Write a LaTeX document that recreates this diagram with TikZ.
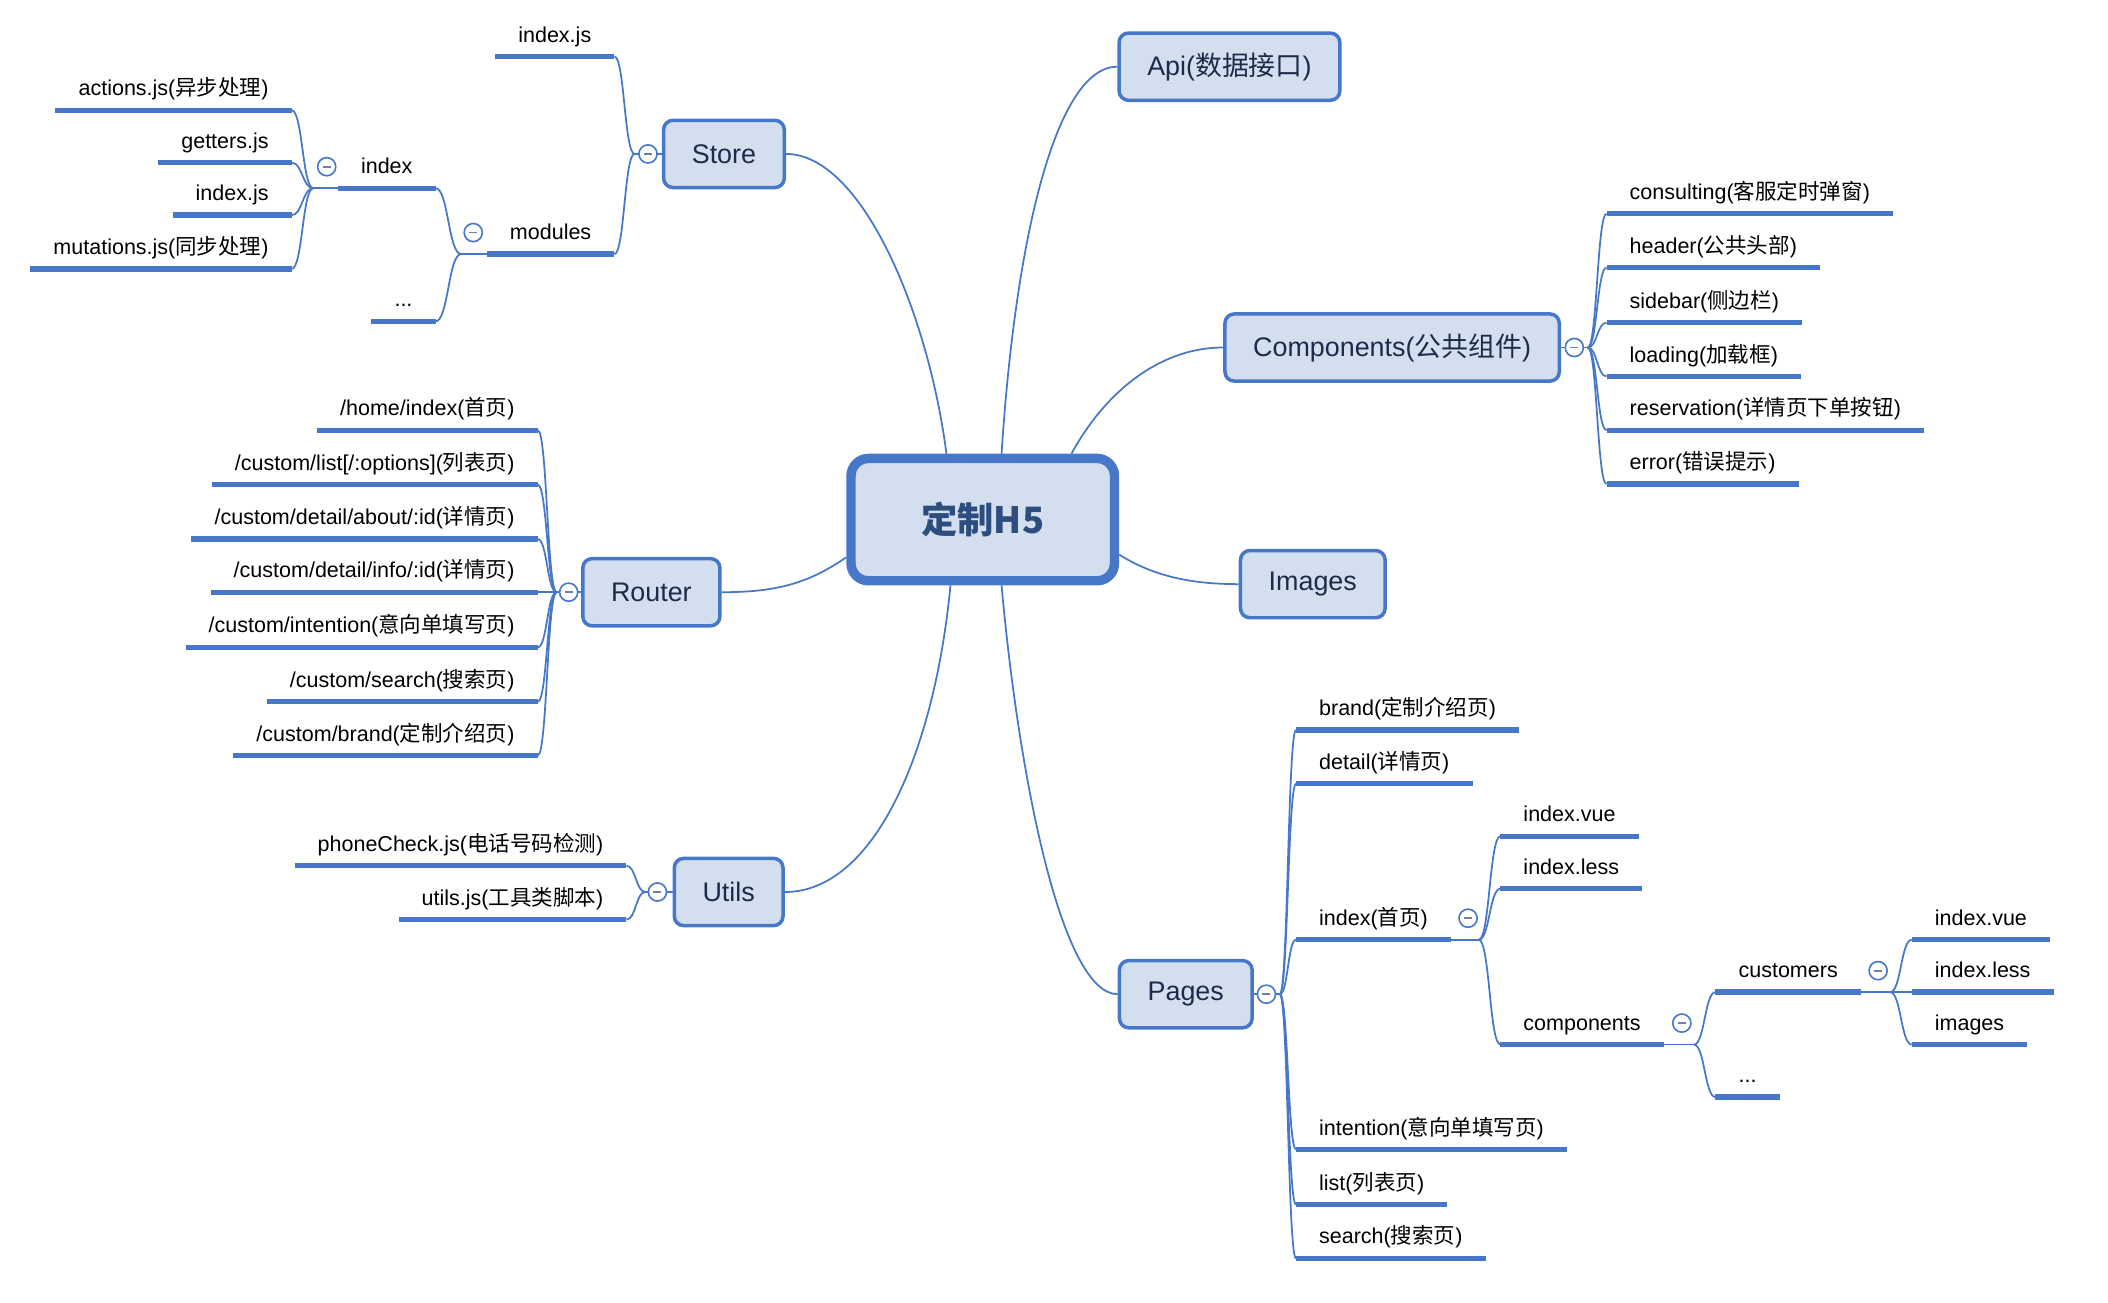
\documentclass[tikz,border=0pt]{standalone}
\usepackage{fontspec}
\setmainfont{Liberation Sans}
\newfontfamily\zhfont{Noto Sans CJK SC}
\newcommand{\zh}[1]{{\zhfont #1}}
\usetikzlibrary{calc}
\definecolor{mapblue}{HTML}{4677C8}
\definecolor{mapfill}{HTML}{D3DEEE}
\definecolor{hubtext}{HTML}{2D4D7F}
\definecolor{boxtext}{HTML}{1C2B47}
\definecolor{foldmark}{HTML}{6F7FAE}
\tikzset{
  hub/.style={draw=mapblue, fill=mapfill, line width=7pt, rounded corners=13pt,
    minimum width=196pt, minimum height=91pt, text=hubtext,
    font=\zhfont\bfseries\fontsize{27}{31}\selectfont},
  topic/.style={draw=mapblue, fill=mapfill, line width=2.6pt, rounded corners=7pt,
    inner xsep=21pt, minimum height=50pt, text=boxtext,
    font=\fontsize{20}{24}\selectfont},
  uline/.style={draw=mapblue, line width=4pt},
  leaf/.style={inner xsep=17pt, inner ysep=7.5pt, text height=12pt, text depth=3pt,
    font=\fontsize{16}{19}\selectfont,
    append after command={(\tikzlastnode.south west) edge[uline] (\tikzlastnode.south east)}},
  leafl/.style={leaf, anchor=south east},
  leafr/.style={leaf, anchor=south west},
  conn/.style={draw=mapblue, line width=1.3pt},
  fold/.style={circle, draw=mapblue, fill=white, line width=1.2pt, minimum size=13.5pt,
    inner sep=0pt, path picture={\draw[foldmark, line width=1.3pt]
      ([xshift=-3pt]path picture bounding box.center) -- ([xshift=3pt]path picture bounding box.center);}},
  branch/.style={to path={let \p1=(\tikztostart), \p2=(\tikztotarget) in
    .. controls ({(\x1+\x2)/2},\y1) and ({(\x1+\x2)/2},\y2) .. (\tikztotarget)}}
}
\begin{document}
\begin{tikzpicture}[x=1pt,y=-1pt]
\useasboundingbox (0,0) rectangle (1568,968.5);

% center and main topics
\node[hub] (hub) at (731,386.5) {定制H5};
\node[topic] (api) at (914.5,49.6) {Api(\zh{数据接口})};
\node[topic] (store) at (538.5,114.5) {Store};
\node[topic] (comp) at (1035.5,258.5) {Components(\zh{公共组件})};
\node[topic] (img) at (976.5,434.5) {Images};
\node[topic] (router) at (484.5,440.5) {Router};
\node[topic] (utils) at (542,663.5) {Utils};
\node[topic] (pages) at (882,739.5) {Pages};

\draw[conn] ([xshift=-27pt]hub.north) .. controls (690,230) and (640,114.5) .. (store.east);
\draw[conn] ([xshift=14pt]hub.north) .. controls (755,180) and (785,49.6) .. (api.west);
\draw[conn] ([xshift=66pt]hub.north) .. controls (820,295) and (860,258.5) .. (comp.west);
\draw[conn] ([yshift=-26pt]hub.east) .. controls (860,430) and (890,434.5) .. (img.west);
\draw[conn] ([yshift=-28pt]hub.west) .. controls (600,435) and (575,440.5) .. (router.east);
\draw[conn] ([xshift=-24pt]hub.south) .. controls (695,560) and (650,663.5) .. (utils.east);
\draw[conn] ([xshift=14pt]hub.south) .. controls (758,580) and (790,739.5) .. (pages.west);

% Store
\coordinate (jstore) at (472,114.5);
\node[leafl] (sidx) at (457,42) {index.js};
\node[leafl] (smod) at (457,189) {modules};
\coordinate (jmod) at (343,189);
\node[leafl] (mindex) at (324,140) {index};
\node[leafl] (mmore) at (324,239) {...};
\coordinate (jindex) at (233,140);
\node[leafl] (ia) at (217,82) {actions.js(\zh{异步处理})};
\node[leafl] (ig) at (217,121) {getters.js};
\node[leafl] (ii) at (217,160) {index.js};
\node[leafl] (im) at (217,200) {mutations.js(\zh{同步处理})};
\draw[conn] (store.west) -- (jstore);
\foreach \c in {sidx,smod} \draw[conn] (jstore) to[branch] (\c.south east);
\draw[conn] (smod.south west) -- (jmod);
\foreach \c in {mindex,mmore} \draw[conn] (jmod) to[branch] (\c.south east);
\draw[conn] (mindex.south west) -- (jindex);
\foreach \c in {ia,ig,ii,im} \draw[conn] (jindex) to[branch] (\c.south east);

% Router
\coordinate (jrouter) at (414,440.5);
\node[leafl] (r1) at (400,320) {/home/index(\zh{首页})};
\node[leafl] (r2) at (400,360.5) {/custom/list[/:options](\zh{列表页})};
\node[leafl] (r3) at (400,401) {/custom/detail/about/:id(\zh{详情页})};
\node[leafl] (r4) at (400,440.5) {/custom/detail/info/:id(\zh{详情页})};
\node[leafl] (r5) at (400,481.5) {/custom/intention(\zh{意向单填写页})};
\node[leafl] (r6) at (400,522) {/custom/search(\zh{搜索页})};
\node[leafl] (r7) at (400,562) {/custom/brand(\zh{定制介绍页})};
\draw[conn] (router.west) -- (jrouter);
\foreach \c in {r1,r2,r3,r4,r5,r6,r7} \draw[conn] (jrouter) to[branch] (\c.south east);

% Utils
\coordinate (jutils) at (480,663.5);
\node[leafl] (u1) at (466,644) {phoneCheck.js(\zh{电话号码检测})};
\node[leafl] (u2) at (466,684) {utils.js(\zh{工具类脚本})};
\draw[conn] (utils.west) -- (jutils);
\foreach \c in {u1,u2} \draw[conn] (jutils) to[branch] (\c.south east);

% Components
\coordinate (jcomp) at (1181,258.5);
\node[leafr] (c1) at (1195,159) {consulting(\zh{客服定时弹窗})};
\node[leafr] (c2) at (1195,199) {header(\zh{公共头部})};
\node[leafr] (c3) at (1195,240) {sidebar(\zh{侧边栏})};
\node[leafr] (c4) at (1195,280) {loading(\zh{加载框})};
\node[leafr] (c5) at (1195,320) {reservation(\zh{详情页下单按钮})};
\node[leafr] (c6) at (1195,360) {error(\zh{错误提示})};
\draw[conn] (comp.east) -- (jcomp);
\foreach \c in {c1,c2,c3,c4,c5,c6} \draw[conn] (jcomp) to[branch] (\c.south west);

% Pages
\coordinate (jpages) at (952,739.5);
\node[leafr] (p1) at (964,543) {brand(\zh{定制介绍页})};
\node[leafr] (p2) at (964,583) {detail(\zh{详情页})};
\node[leafr] (pidx) at (964,699) {index(\zh{首页})};
\node[leafr] (p4) at (964,855) {intention(\zh{意向单填写页})};
\node[leafr] (p5) at (964,896) {list(\zh{列表页})};
\node[leafr] (p6) at (964,936) {search(\zh{搜索页})};
\draw[conn] (pages.east) -- (jpages);
\foreach \c in {p1,p2,pidx,p4,p5,p6} \draw[conn] (jpages) to[branch] (\c.south west);

\coordinate (jpidx) at (1100,699);
\node[leafr] (xv) at (1116,622) {index.vue};
\node[leafr] (xl) at (1116,661) {index.less};
\node[leafr] (pcomp) at (1116,777) {components};
\draw[conn] (pidx.south east) -- (jpidx);
\foreach \c in {xv,xl,pcomp} \draw[conn] (jpidx) to[branch] (\c.south west);

\coordinate (jpcomp) at (1260,777);
\node[leafr] (pcust) at (1276,738) {customers};
\node[leafr] (pmore) at (1276,816) {...};
\draw[conn] (pcomp.south east) -- (jpcomp);
\foreach \c in {pcust,pmore} \draw[conn] (jpcomp) to[branch] (\c.south west);

\coordinate (jcust) at (1406,738);
\node[leafr] (kv) at (1422,699) {index.vue};
\node[leafr] (kl) at (1422,738) {index.less};
\node[leafr] (ki) at (1422,777) {images};
\draw[conn] (pcust.south east) -- (jcust);
\foreach \c in {kv,kl,ki} \draw[conn] (jcust) to[branch] (\c.south west);

% fold marks
\node[fold] (fstore) at (482,114.5) {};
\node[fold] (frouter) at (423,440.5) {};
\node[fold] (futils) at (489,663.5) {};
\node[fold] (fcomp) at (1171,258.5) {};
\node[fold] (fpages) at (942,739.5) {};
\node[fold] (findex) at (243,124) {};
\node[fold] (fmod) at (352,173) {};
\node[fold] (fpidx) at (1092,683) {};
\node[fold] (fpcomp) at (1251,761) {};
\node[fold] (fcust) at (1397,722) {};
\end{tikzpicture}
\end{document}
